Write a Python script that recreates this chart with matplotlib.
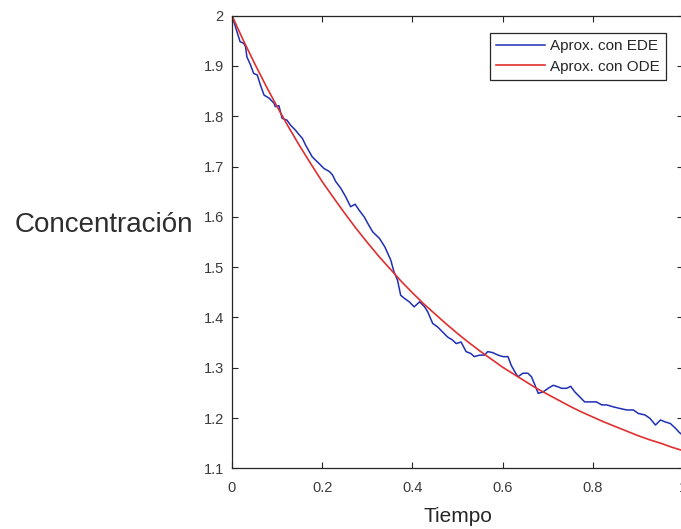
import matplotlib
matplotlib.use("Agg")
import matplotlib.pyplot as plt

plt.rcParams['font.family'] = ['Liberation Sans', 'DejaVu Sans']

# solucion estocastica (EDE)
t_ede = [0.0, 0.011, 0.018, 0.026, 0.030, 0.033, 0.041, 0.048, 0.056, 0.063,
         0.071, 0.082, 0.093, 0.096, 0.104, 0.111, 0.122, 0.130, 0.141, 0.149,
         0.156, 0.163, 0.178, 0.193, 0.204, 0.216, 0.223, 0.230, 0.241, 0.252,
         0.263, 0.273, 0.282, 0.293, 0.301, 0.312, 0.327, 0.339, 0.345, 0.352,
         0.359, 0.367, 0.374, 0.382, 0.393, 0.404, 0.416, 0.427, 0.434, 0.445,
         0.456, 0.467, 0.478, 0.489, 0.497, 0.508, 0.519, 0.530, 0.537, 0.549,
         0.560, 0.567, 0.578, 0.590, 0.601, 0.612, 0.619, 0.627, 0.634, 0.645,
         0.656, 0.664, 0.671, 0.679, 0.690, 0.701, 0.712, 0.723, 0.731, 0.742,
         0.751, 0.760, 0.771, 0.782, 0.797, 0.808, 0.820, 0.831, 0.846, 0.860,
         0.875, 0.890, 0.901, 0.916, 0.927, 0.939, 0.950, 0.961, 0.972, 0.984,
         0.991, 1.0]
c_ede = [2.0, 1.968, 1.948, 1.945, 1.938, 1.918, 1.902, 1.885, 1.882, 1.862,
         1.842, 1.836, 1.826, 1.819, 1.821, 1.796, 1.792, 1.782, 1.772, 1.763,
         1.756, 1.743, 1.719, 1.706, 1.696, 1.690, 1.683, 1.670, 1.657, 1.640,
         1.620, 1.625, 1.613, 1.600, 1.587, 1.570, 1.557, 1.540, 1.528, 1.514,
         1.491, 1.474, 1.444, 1.438, 1.431, 1.421, 1.431, 1.421, 1.411, 1.388,
         1.381, 1.371, 1.361, 1.355, 1.348, 1.351, 1.332, 1.328, 1.322, 1.325,
         1.325, 1.332, 1.330, 1.325, 1.322, 1.322, 1.305, 1.292, 1.282, 1.289,
         1.289, 1.282, 1.267, 1.249, 1.252, 1.259, 1.265, 1.262, 1.259, 1.259,
         1.263, 1.252, 1.242, 1.232, 1.232, 1.232, 1.226, 1.226, 1.222, 1.219,
         1.216, 1.216, 1.209, 1.206, 1.199, 1.186, 1.196, 1.192, 1.189, 1.179,
         1.172, 1.165]

# solucion deterministica (ODE)
t_ode = [0.0, 0.025, 0.05, 0.075, 0.1, 0.125, 0.15, 0.175, 0.2, 0.225,
         0.25, 0.275, 0.3, 0.325, 0.35, 0.375, 0.4, 0.425, 0.45, 0.475,
         0.5, 0.525, 0.55, 0.575, 0.6, 0.625, 0.65, 0.675, 0.7, 0.725,
         0.75, 0.775, 0.8, 0.825, 0.85, 0.875, 0.9, 0.925, 0.95, 0.975, 1.0]
c_ode = [2.0, 1.951, 1.905, 1.861, 1.819, 1.779, 1.741, 1.705, 1.670, 1.638,
         1.607, 1.577, 1.549, 1.522, 1.497, 1.472, 1.449, 1.427, 1.407, 1.387,
         1.368, 1.350, 1.333, 1.317, 1.301, 1.287, 1.273, 1.259, 1.247, 1.235,
         1.223, 1.212, 1.202, 1.192, 1.183, 1.174, 1.165, 1.157, 1.150, 1.142,
         1.135]

xticks = [0, 0.2, 0.4, 0.6, 0.8, 1.0]
xticklabels = ['0', '0.2', '0.4', '0.6', '0.8', '1']
yticks = [1.1, 1.2, 1.3, 1.4, 1.5, 1.6, 1.7, 1.8, 1.9, 2.0]
yticklabels = ['1.1', '1.2', '1.3', '1.4', '1.5', '1.6', '1.7', '1.8', '1.9', '2']

W, H = 681, 529
fig = plt.figure(figsize=(W / 100, H / 100), dpi=100)
ax = fig.add_axes([232 / W, 60.7 / H, 451 / W, 452.7 / H])

ax.plot(t_ede, c_ede, color='#1f2fb5', linewidth=1.1, label='Aprox. con EDE')
ax.plot(t_ode, c_ode, color='#e02f2f', linewidth=1.2, label='Aprox. con ODE')

ax.set_xlim(0, 1)
ax.set_ylim(1.1, 2)
ax.set_xticks(xticks)
ax.set_xticklabels(xticklabels)
ax.set_yticks(yticks)
ax.set_yticklabels(yticklabels)

gray = '#262626'
for s in ax.spines.values():
    s.set_color(gray)
    s.set_linewidth(0.9)
ax.tick_params(direction='in', length=4, width=0.8, colors=gray,
               labelsize=10.5, top=True, right=True)
ax.tick_params(axis='x', pad=9)
ax.tick_params(axis='y', pad=6)
for lbl in ax.get_xticklabels() + ax.get_yticklabels():
    lbl.set_color('#3a3a3a')

ax.set_xlabel('Tiempo', fontsize=15, color=gray, labelpad=9)
ax.set_ylabel('Concentración', fontsize=20, color='#2e2e2e', rotation=0,
              ha='right', va='center')
ax.yaxis.set_label_coords(-0.086, 0.537)

leg = ax.legend(loc='upper right', bbox_to_anchor=(666.3 / W, 1 - 33.3 / H),
                bbox_transform=fig.transFigure, borderaxespad=0,
                fontsize=11, handlelength=3.2, handletextpad=0.35,
                labelspacing=0.4, borderpad=0.4, fancybox=False,
                framealpha=1, edgecolor=gray)
leg.get_frame().set_linewidth(0.9)
for txt in leg.get_texts():
    txt.set_color(gray)

fig.savefig('out.png', dpi=100)
